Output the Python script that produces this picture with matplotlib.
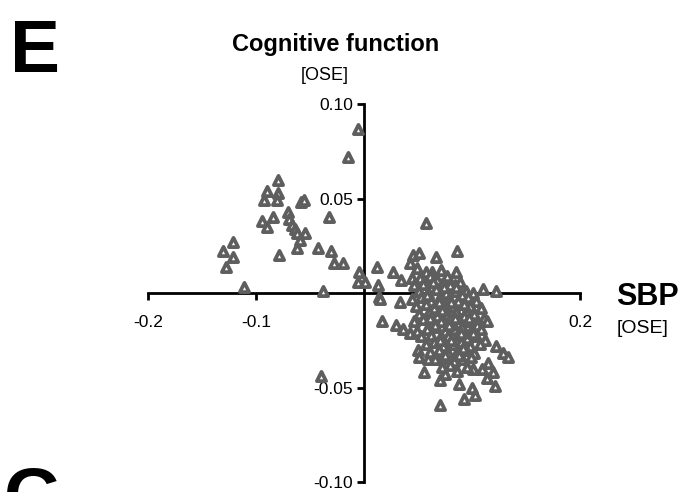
import matplotlib
matplotlib.use("Agg")
import matplotlib.pyplot as plt

plt.rcParams['font.family'] = ['Liberation Sans', 'DejaVu Sans']

# SBP [OSE] (x) and cognitive function [OSE] (y)
sbp_sparse = [-0.080, -0.090, -0.080, -0.093, -0.081, -0.058, -0.056, -0.070, -0.094, -0.084,
              -0.090, -0.069, -0.067, -0.064, -0.062, -0.055, -0.059, -0.062, -0.121, -0.131,
              -0.121, -0.128, -0.079, -0.111, -0.006, -0.015, -0.032, -0.043, -0.031, -0.028,
              -0.019, -0.005, -0.006, 0.001, -0.038, -0.040,
              0.012, 0.013, 0.014, 0.027, 0.057, 0.045, 0.051, 0.043, 0.067, 0.086,
              0.034, 0.044, 0.054, 0.063, 0.064, 0.085, 0.110, 0.122, 0.094, 0.078,
              0.084, 0.015, 0.033, 0.017, 0.030, 0.036, 0.043, 0.049, 0.122, 0.129,
              0.133, 0.050, 0.051, 0.059, 0.056, 0.070, 0.070, 0.075, 0.086, 0.088,
              0.101, 0.109, 0.115, 0.119, 0.114, 0.121, 0.100, 0.103, 0.093, 0.070]
cog_sparse = [0.060, 0.054, 0.053, 0.049, 0.049, 0.048, 0.049, 0.043, 0.038, 0.040,
              0.035, 0.039, 0.036, 0.034, 0.032, 0.032, 0.028, 0.024, 0.027, 0.022,
              0.019, 0.014, 0.020, 0.003, 0.087, 0.072, 0.040, 0.024, 0.022, 0.016,
              0.016, 0.011, 0.006, 0.006, 0.001, -0.044,
              0.014, 0.004, -0.002, 0.011, 0.037, 0.020, 0.021, 0.016, 0.019, 0.022,
              0.007, 0.008, 0.008, 0.011, 0.008, 0.011, 0.002, 0.001, 0.001, 0.006,
              0.004, -0.003, -0.005, -0.015, -0.017, -0.019, -0.021, -0.020, -0.028, -0.032,
              -0.034, -0.030, -0.034, -0.035, -0.042, -0.035, -0.046, -0.043, -0.041, -0.048,
              -0.040, -0.040, -0.037, -0.042, -0.045, -0.049, -0.050, -0.054, -0.056, -0.059]

sbp_dense = [0.049, 0.057, 0.071,
             0.052, 0.061, 0.068, 0.077,
             0.046, 0.055, 0.063, 0.072, 0.080, 0.089,
             0.051, 0.059, 0.067, 0.076, 0.084, 0.091, 0.101,
             0.044, 0.053, 0.062, 0.070, 0.079, 0.087, 0.096, 0.104,
             0.048, 0.057, 0.065, 0.073, 0.082, 0.090, 0.098, 0.108,
             0.051, 0.060, 0.068, 0.077, 0.085, 0.093, 0.102, 0.111,
             0.046, 0.055, 0.063, 0.071, 0.080, 0.088, 0.096, 0.105, 0.114,
             0.058, 0.066, 0.075, 0.083, 0.091, 0.099, 0.108,
             0.053, 0.062, 0.070, 0.078, 0.087, 0.095, 0.104, 0.112,
             0.057, 0.065, 0.073, 0.082, 0.090, 0.098, 0.107,
             0.061, 0.069, 0.078, 0.086, 0.094, 0.102,
             0.066, 0.074, 0.083, 0.091, 0.099,
             0.072, 0.080, 0.095,
             0.064, 0.074, 0.085, 0.058, 0.069, 0.081, 0.093, 0.061, 0.072, 0.084,
             0.097, 0.066, 0.079, 0.090, 0.101, 0.070, 0.081, 0.092, 0.075, 0.088]
cog_dense = [0.013, 0.011, 0.012,
             0.008, 0.009, 0.007, 0.009,
             0.004, 0.005, 0.003, 0.005, 0.004, 0.006,
             0.001, 0.000, 0.002, 0.000, 0.001, -0.001, 0.000,
             -0.003, -0.002, -0.004, -0.002, -0.003, -0.004, -0.002, -0.004,
             -0.007, -0.006, -0.008, -0.006, -0.007, -0.009, -0.007, -0.008,
             -0.011, -0.010, -0.012, -0.011, -0.010, -0.012, -0.011, -0.013,
             -0.015, -0.014, -0.016, -0.015, -0.014, -0.016, -0.015, -0.017, -0.015,
             -0.019, -0.018, -0.020, -0.019, -0.018, -0.020, -0.019,
             -0.023, -0.022, -0.024, -0.023, -0.022, -0.024, -0.023, -0.025,
             -0.027, -0.026, -0.028, -0.027, -0.026, -0.028, -0.027,
             -0.031, -0.030, -0.032, -0.031, -0.030, -0.032,
             -0.035, -0.034, -0.036, -0.035, -0.034,
             -0.039, -0.038, -0.039,
             0.006, 0.003, 0.003, -0.001, -0.005, -0.005, -0.006, -0.013, -0.009, -0.013,
             -0.013, -0.017, -0.017, -0.021, -0.021, -0.025, -0.025, -0.029, -0.033, -0.033]

sbp = sbp_sparse + sbp_dense
cog = cog_sparse + cog_dense

x_ticks = [-0.2, -0.1, 0.2]
x_ticklabels = ['-0.2', '-0.1', '0.2']
y_ticks = [0.10, 0.05, -0.05, -0.10]
y_ticklabels = ['0.10', '0.05', '-0.05', '-0.10']

fig = plt.figure(figsize=(6.83, 4.92), dpi=100)
ax = fig.add_axes([0.2167, 0.0203, 0.6325, 0.7683])
ax.set_xlim(-0.2, 0.2)
ax.set_ylim(-0.1, 0.1)

ax.scatter(sbp, cog, marker='^', s=44, facecolor='white', edgecolor='#5e5e5e',
           linewidths=2.7, zorder=3, clip_on=False)

for s in ['top', 'right']:
    ax.spines[s].set_visible(False)
ax.spines['left'].set_position(('data', 0))
ax.spines['bottom'].set_position(('data', 0))
for s in ['left', 'bottom']:
    ax.spines[s].set_linewidth(2.0)
    ax.spines[s].set_color('black')
    ax.spines[s].set_zorder(2)

ax.set_xticks(x_ticks)
ax.set_xticklabels(x_ticklabels)
ax.set_yticks(y_ticks)
ax.set_yticklabels(y_ticklabels)
ax.tick_params(axis='both', direction='out', length=5, width=2.0, labelsize=12.5,
               colors='black')
ax.tick_params(axis='x', pad=11)
ax.tick_params(axis='y', pad=3)
ax.patch.set_alpha(0)

fig.text(0.0146, 0.854, 'E', fontsize=54, fontweight='bold', ha='left', va='baseline')
fig.text(0.492, 0.896, 'Cognitive function', fontsize=17, fontweight='bold',
         ha='center', va='baseline')
fig.text(0.476, 0.837, '[OSE]', fontsize=13, ha='center', va='baseline')
fig.text(0.902, 0.380, 'SBP', fontsize=22, fontweight='bold', ha='left', va='baseline')
fig.text(0.903, 0.323, '[OSE]', fontsize=14, ha='left', va='baseline')
fig.text(0.005, -0.055, 'G', fontsize=54, fontweight='bold', ha='left', va='baseline')

fig.savefig('out.png', dpi=100)
